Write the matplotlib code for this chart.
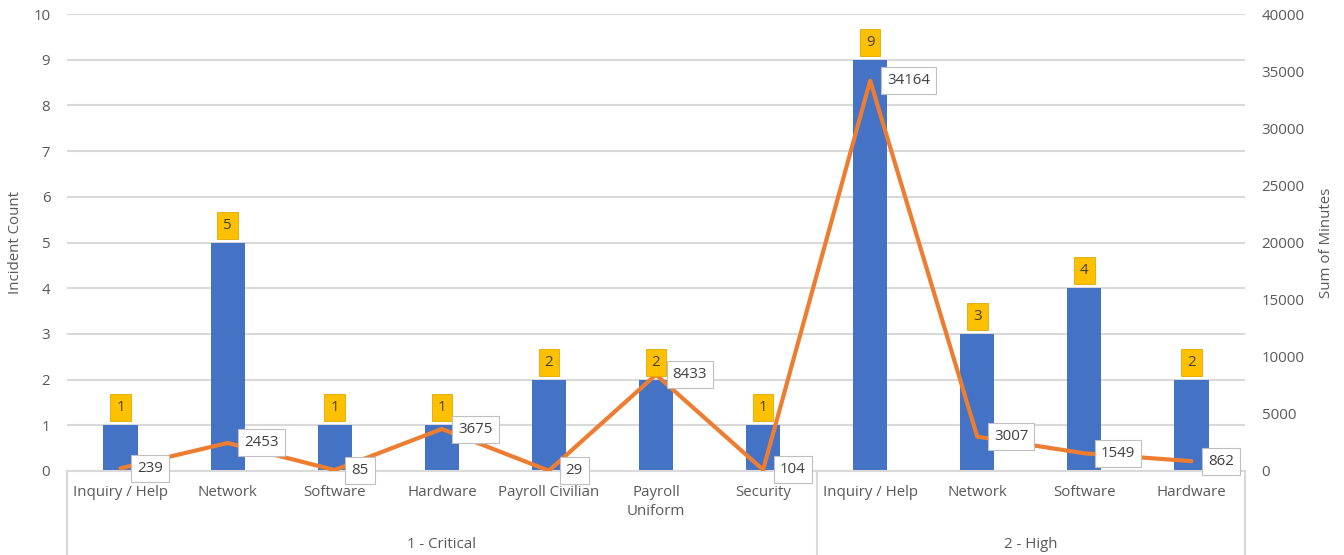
import matplotlib.pyplot as plt

categories = ['Inquiry / Help', 'Network', 'Software', 'Hardware', 'Payroll Civilian',
              'Payroll\nUniform', 'Security',
              'Inquiry / Help', 'Network', 'Software', 'Hardware']
groups = ['1 - Critical', '2 - High']
group_sizes = [7, 4]
incident_count = [1, 5, 1, 1, 2, 2, 1, 9, 3, 4, 2]
sum_minutes = [239, 2453, 85, 3675, 29, 8433, 104, 34164, 3007, 1549, 862]

blue = '#4472C4'
orange = '#ED7D31'
gold = '#FFC000'
txt = '#595959'
grid_c = '#D9D9D9'

plt.rcParams['font.family'] = ['Open Sans', 'DejaVu Sans']
fs = 10.8

fig = plt.figure(figsize=(13.44, 5.55), dpi=100)
ax = fig.add_axes([67/1344, 1 - 471/555, (1245 - 67)/1344, (471 - 14)/555])
ax2 = ax.twinx()

x = list(range(len(categories)))
ax.bar(x, incident_count, width=0.32, color=blue, zorder=2)
ax.set_ylim(0, 10)
ax.set_yticks(range(0, 11))
ax.set_xlim(-0.5, len(categories) - 0.5)
ax.set_xticks([])
ax.grid(axis='y', color=grid_c, linewidth=1.5, zorder=0)
ax.set_axisbelow(True)
for s in ax.spines.values():
    s.set_visible(False)
for s in ax2.spines.values():
    s.set_visible(False)
ax.tick_params(axis='y', length=0, labelsize=fs, labelcolor=txt, pad=12)
ax.set_ylabel('Incident Count', color=txt, fontsize=fs, labelpad=7)

ax2.plot(x, sum_minutes, color=orange, linewidth=3, solid_capstyle='round', zorder=3)
ax2.set_ylim(0, 40000)
ax2.set_yticks(range(0, 40001, 5000))
ax2.tick_params(axis='y', length=0, labelsize=fs, labelcolor=txt, pad=12)
ax2.set_ylabel('Sum of Minutes', color=txt, fontsize=fs, labelpad=10)

# bar value labels
for xi, v in zip(x, incident_count):
    ax2.annotate(str(v), xy=(xi, v * 4000), xytext=(0, 12.5), textcoords='offset points',
                 ha='center', va='center', fontsize=fs, color='#404040', zorder=5,
                 bbox=dict(boxstyle='square,pad=0.4', fc=gold, ec='#E0A800', lw=0.6))

# line value labels
for xi, v in zip(x, sum_minutes):
    ax2.annotate(str(v), xy=(xi, v), xytext=(12, 0), textcoords='offset points',
                 ha='left', va='center', fontsize=fs, color='#404040', zorder=6,
                 bbox=dict(boxstyle='square,pad=0.4', fc='white', ec='#BFBFBF', lw=0.8))

# category axis with grouping box
tr = ax.get_xaxis_transform()
bottom = -84 / 457
ax.plot([-0.5, len(categories) - 0.5], [0, 0], color=grid_c, lw=1.5, transform=tr, clip_on=False)
for xi, lab in zip(x, categories):
    ax.text(xi, -0.03, lab, transform=tr, ha='center', va='top', fontsize=fs,
            color=txt, linespacing=1.4)
start = 0
edges = [-0.5]
for g, n in zip(groups, group_sizes):
    ax.text(start + (n - 1) / 2, -0.16, g, transform=tr, ha='center', va='center',
            fontsize=fs, color=txt)
    start += n
    edges.append(start - 0.5)
for e in edges:
    ax.plot([e, e], [0, bottom], color=grid_c, lw=1.5, transform=tr, clip_on=False)

fig.savefig('out.png', dpi=100)
